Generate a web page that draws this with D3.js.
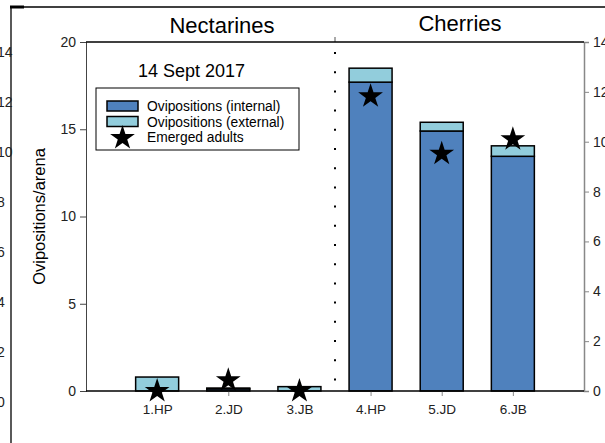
<!DOCTYPE html>
<html><head><meta charset="utf-8">
<script src="https://cdn.jsdelivr.net/npm/d3@7"></script>
<style>body{margin:0;background:#fff}svg{display:block}text{font-family:"Liberation Sans",Arial,sans-serif}</style>
</head><body><svg id="c" width="605" height="443"></svg>
<script>
const categories = ["1.HP","2.JD","3.JB","4.HP","5.JD","6.JB"];
const internal = [0, 0.12, 0, 17.7, 14.9, 13.45];
const external = [0.8, 0.05, 0.25, 0.8, 0.5, 0.6];
const emerged = [0, 0.43, 0, 11.82, 9.52, 10.1];
const leftTicks = [0, 5, 10, 15, 20];
const rightTicks = [0, 2, 4, 6, 8, 10, 12, 14];
const groups = ["Nectarines", "Cherries"];
const legendLabels = ["Ovipositions (internal)", "Ovipositions (external)", "Emerged adults"];
const title = "14 Sept 2017";
const yLabel = "Ovipositions/arena";

const C_INT = "#4f81bd", C_EXT = "#92cddc";
const svg = d3.select("#c");
const L = 86, R = 584, T = 42, B = 391;
const x = d3.scaleLinear().domain([0, 7]).range([L, R]);
const yL = d3.scaleLinear().domain([0, 20]).range([B, T]);
const yR = d3.scaleLinear().domain([0, 14]).range([B, T]);
const yGhost = d3.scaleLinear().domain([0, 14]).range([402, 52]);
const bw = 43;

// frame remnants on left/top
svg.append("line").attr("x1", 11).attr("x2", 605).attr("y1", 7).attr("y2", 7).attr("stroke", "#000").attr("stroke-width", 1.3);
svg.append("line").attr("x1", 11).attr("x2", 11).attr("y1", 7).attr("y2", 443).attr("stroke", "#000").attr("stroke-width", 1.3);
svg.append("line").attr("x1", 10).attr("x2", 24).attr("y1", 7).attr("y2", 7).attr("stroke", "#000").attr("stroke-width", 3);
svg.append("g").selectAll("text").data(rightTicks).join("text")
  .attr("x", -3).attr("y", d => yGhost(d) + 5).attr("font-size", 14).attr("fill", "#222").text(d => d);

// bars
const stack = categories.map((c, i) => ({c, i, a: internal[i], b: external[i]}));
const g = svg.append("g");
g.selectAll("rect.int").data(stack).join("rect").attr("class", "int")
  .attr("x", d => x(d.i + 1) - bw / 2).attr("width", bw)
  .attr("y", d => yL(d.a)).attr("height", d => yL(0) - yL(d.a))
  .attr("fill", C_INT).attr("stroke", "#000").attr("stroke-width", 1.5)
  .style("display", d => d.a > 0 ? null : "none");
g.selectAll("rect.ext").data(stack).join("rect").attr("class", "ext")
  .attr("x", d => x(d.i + 1) - bw / 2).attr("width", bw)
  .attr("y", d => yL(d.a + d.b)).attr("height", d => yL(d.a) - yL(d.a + d.b))
  .attr("fill", C_EXT).attr("stroke", "#000").attr("stroke-width", 1.5)
  .style("display", d => d.b > 0 ? null : "none");

// separator
svg.append("line").attr("x1", x(3.5)).attr("x2", x(3.5)).attr("y1", 52).attr("y2", 385)
  .attr("stroke", "#000").attr("stroke-width", 2).attr("stroke-dasharray", "2,17.2");
svg.append("line").attr("x1", x(3.5)).attr("x2", x(3.5)).attr("y1", T).attr("y2", T - 5).attr("stroke", "#555");

// axes
const axL = svg.append("g").attr("transform", `translate(${L},0)`)
  .call(d3.axisLeft(yL).tickValues(leftTicks).tickSize(6).tickPadding(4));
axL.select(".domain").attr("stroke", "#444");
axL.selectAll(".tick line").attr("stroke", "#444");
axL.selectAll("text").attr("font-size", 14).attr("fill", "#222").attr("font-family", "Liberation Sans");

const axR = svg.append("g").attr("transform", `translate(${R},0)`)
  .call(d3.axisRight(yR).tickValues(rightTicks).tickSize(5).tickPadding(4));
axR.select(".domain").attr("stroke", "#888").attr("stroke-width", 1.5);
axR.selectAll(".tick line").attr("stroke", "#888");
axR.selectAll("text").attr("font-size", 14).attr("fill", "#222").attr("font-family", "Liberation Sans");

const axB = svg.append("g").attr("transform", `translate(0,${B})`)
  .call(d3.axisBottom(x).tickValues(categories.map((c, i) => i + 1)).tickFormat(d => categories[d - 1]).tickSize(5).tickPadding(8));
axB.select(".domain").remove();
axB.selectAll(".tick line").attr("stroke", "#888");
axB.selectAll("text").attr("font-size", 13.5).attr("fill", "#222").attr("font-family", "Liberation Sans");

svg.append("line").attr("x1", L).attr("x2", R).attr("y1", B).attr("y2", B).attr("stroke", "#000").attr("stroke-width", 1.5);
svg.append("line").attr("x1", L).attr("x2", R).attr("y1", T).attr("y2", T).attr("stroke", "#000").attr("stroke-width", 1.5);

// stars
const star = d3.symbol().type(d3.symbolStar).size(190);
svg.append("g").selectAll("path").data(emerged).join("path")
  .attr("transform", (d, i) => `translate(${x(i + 1)},${yR(d)})`)
  .attr("d", star).attr("fill", "#000");

// titles
svg.append("text").attr("x", 222).attr("y", 33).attr("text-anchor", "middle").attr("font-size", 22).text(groups[0]);
svg.append("text").attr("x", 460).attr("y", 31).attr("text-anchor", "middle").attr("font-size", 22).text(groups[1]);
svg.append("text").attr("x", 138).attr("y", 77).attr("font-size", 18).text(title);
svg.append("text").attr("transform", `translate(45,${(T + B) / 2}) rotate(-90)`).attr("text-anchor", "middle")
  .attr("font-size", 16.5).text(yLabel);

// legend
const lg = svg.append("g");
lg.append("rect").attr("x", 96).attr("y", 88).attr("width", 203).attr("height", 62)
  .attr("fill", "#fff").attr("stroke", "#000").attr("stroke-width", 1);
[C_INT, C_EXT].forEach((c, i) => {
  lg.append("rect").attr("x", 107).attr("y", 101 + i * 15.5).attr("width", 31).attr("height", 10)
    .attr("fill", c).attr("stroke", "#000").attr("stroke-width", 1.5);
});
lg.append("path").attr("transform", "translate(122.5,138)").attr("d", star).attr("fill", "#000");
legendLabels.forEach((t, i) => {
  lg.append("text").attr("x", 147).attr("y", 111 + i * 15.5).attr("font-size", 13.8).text(t);
});
</script></body></html>
